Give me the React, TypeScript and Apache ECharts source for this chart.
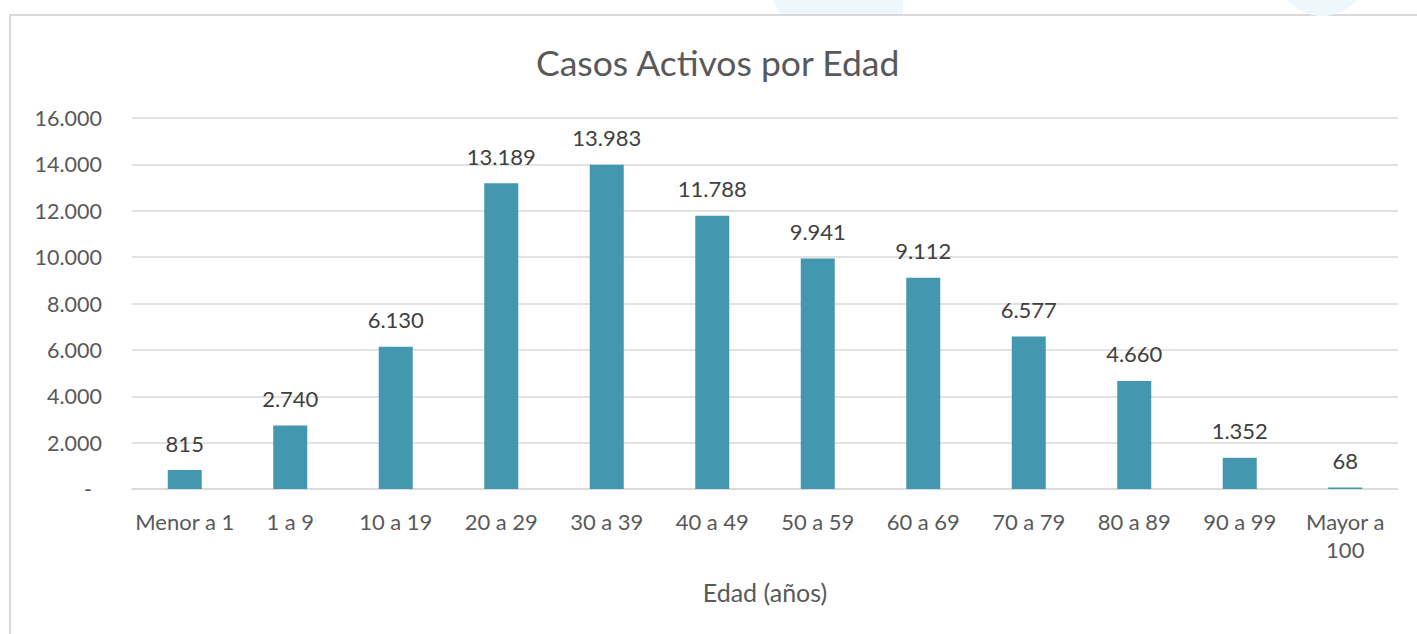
import React, { useEffect, useRef } from "react";
import * as echarts from "echarts";

const categories = [
  "Menor a 1", "1 a 9", "10 a 19", "20 a 29", "30 a 39", "40 a 49",
  "50 a 59", "60 a 69", "70 a 79", "80 a 89", "90 a 99", "Mayor a\n100",
];
const activeCases = [815, 2740, 6130, 13189, 13983, 11788, 9941, 9112, 6577, 4660, 1352, 68];
const yMin = 0;
const yMax = 16000;
const yStep = 2000;

const fmt = (v: number) => String(Math.round(v)).replace(/\B(?=(\d{3})+(?!\d))/g, ".");

export default function App() {
  const ref = useRef<HTMLDivElement>(null);
  useEffect(() => {
    if (!ref.current) return;
    const chart = echarts.init(ref.current, undefined, { renderer: "svg" });
    const font = "Lato";
    chart.setOption({
      animation: false,
      backgroundColor: "#ffffff",
      textStyle: { fontFamily: font },
      title: {
        text: "Casos Activos por Edad",
        left: 531,
        top: 39,
        textStyle: { fontFamily: font, fontSize: 35.5, fontWeight: "normal", color: "#595959" },
      },
      graphic: [
        { type: "polygon", shape: { points: [[773, 0], [903, 0], [903, 14], [780, 14]] }, style: { fill: "#eef8fc" }, silent: true },
        { type: "circle", shape: { cx: 1322, cy: -30, r: 46 }, style: { fill: "#eef8fc" }, silent: true },
        { type: "rect", shape: { x: 10, y: 15, width: 1500, height: 700 }, style: { fill: "#ffffff", stroke: "#d9d9d9", lineWidth: 2 }, silent: true, z: -1 },
      ],
      grid: { left: 132, right: 19, top: 118, bottom: 145, containLabel: false },
      xAxis: {
        type: "category",
        data: categories,
        axisLine: { show: true, lineStyle: { color: "#d9d9d9", width: 1.5 } },
        axisTick: { show: false },
        axisLabel: { interval: 0, margin: 18, fontSize: 22, lineHeight: 28, color: "#595959", fontFamily: font },
        name: "Edad (años)",
        nameLocation: "middle",
        nameGap: 90,
        nameTextStyle: { fontSize: 25, color: "#595959", fontFamily: font },
      },
      yAxis: {
        type: "value",
        min: yMin,
        max: yMax,
        interval: yStep,
        axisLine: { show: false },
        axisTick: { show: false },
        splitLine: { lineStyle: { color: "#d9d9d9", width: 1.5 } },
        axisLabel: {
          margin: 30,
          fontSize: 21.5,
          color: "#595959",
          fontFamily: font,
          formatter: (v: number) => (v === 0 ? "{d|-}" : fmt(v)),
          rich: { d: { fontSize: 21.5, color: "#595959", padding: [0, 10, 0, 0], fontFamily: font } },
        },
      },
      series: [
        {
          type: "bar",
          data: activeCases,
          barWidth: 34,
          itemStyle: { color: "#4397ae" },
          label: {
            show: true,
            position: "top",
            distance: 16,
            fontSize: 22,
            color: "#404040",
            fontFamily: font,
            formatter: (p: any) => fmt(p.value),
          },
        },
      ],
    });
    return () => chart.dispose();
  }, []);
  return <div ref={ref} style={{ position: "absolute", left: 0, top: 0, width: 1417, height: 634 }} />;
}
